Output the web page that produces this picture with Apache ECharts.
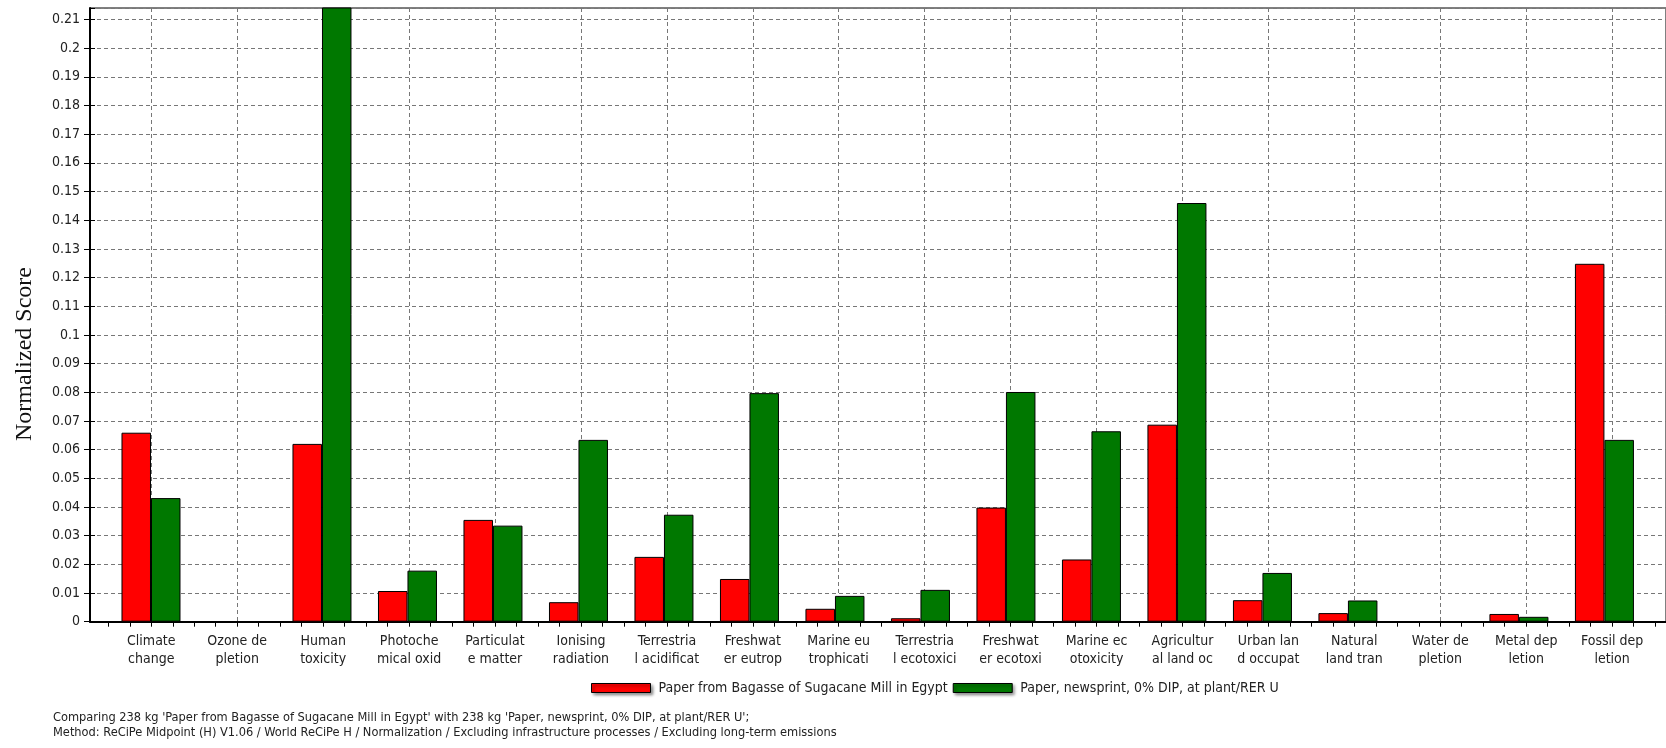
<!DOCTYPE html>
<html><head><meta charset="utf-8">
<script src="https://cdn.jsdelivr.net/npm/echarts@6/dist/echarts.min.js"></script>
<style>html,body{margin:0;padding:0;background:#fff}#c{width:1666px;height:748px}</style>
</head><body><div id="c"></div>
<script>
// ---- data ----
const categories = [
  'Climate\nchange', 'Ozone de\npletion', 'Human\ntoxicity', 'Photoche\nmical oxid',
  'Particulat\ne matter', 'Ionising\nradiation', 'Terrestria\nl acidificat', 'Freshwat\ner eutrop',
  'Marine eu\ntrophicati', 'Terrestria\nl ecotoxici', 'Freshwat\ner ecotoxi', 'Marine ec\notoxicity',
  'Agricultur\nal land oc', 'Urban lan\nd occupat', 'Natural\nland tran', 'Water de\npletion',
  'Metal dep\nletion', 'Fossil dep\nletion'
];
const seriesNames = ['Paper from Bagasse of Sugacane Mill in Egypt', 'Paper, newsprint, 0% DIP, at plant/RER U'];
const bagasse = [0.0659, 0, 0.0620, 0.0107, 0.0355, 0.0068, 0.0226, 0.0149, 0.0045, 0.0012,
                 0.0398, 0.0217, 0.0687, 0.0075, 0.0030, 0, 0.0027, 0.1248];
const newsprint = [0.0431, 0, 0.2200, 0.0178, 0.0335, 0.0634, 0.0373, 0.0797, 0.0090, 0.0111,
                   0.0801, 0.0664, 0.1460, 0.0170, 0.0074, 0, 0.0017, 0.0634];
const yMin = 0, yMax = 0.214, yStep = 0.01;
const yTitle = 'Normalized Score';
const footnoteLines = [
  "Comparing 238 kg 'Paper from Bagasse of Sugacane Mill in Egypt' with 238 kg 'Paper, newsprint, 0% DIP, at plant/RER U';",
  "Method: ReCiPe Midpoint (H) V1.06 / World ReCiPe H / Normalization / Excluding infrastructure processes / Excluding long-term emissions"
];

// ---- layout ----
const H = 748;
const plotLeft = 90, plotTop = 8, axisY = 621.7, plotRightEdge = 1674;
const c0 = 151.3, cw = 85.93;         // first category centre, category spacing (px)
const gridBottom = H - axisY;
const uiFont = '"DejaVu Sans Condensed", "Liberation Sans", sans-serif';
const txtColor = '#222';
const gridLine = {show: true, lineStyle: {color: '#777', width: 1, type: [4, 3]}};

const chart = echarts.init(document.getElementById('c'), null, {renderer: 'canvas'});
const n = categories.length;

const option = {
  animation: false,
  backgroundColor: '#fff',
  grid: [
    {left: plotLeft, top: plotTop, width: plotRightEdge - plotLeft, bottom: gridBottom,
     show: true, borderColor: '#000', borderWidth: 1, backgroundColor: 'transparent'},
    {left: c0 - 0.5 * cw, top: plotTop, width: n * cw, bottom: gridBottom},
    {left: c0, top: plotTop, width: (n - 1) * cw, bottom: gridBottom}
  ],
  xAxis: [
    {type: 'value', gridIndex: 0, min: (plotLeft - c0) / cw, max: (plotRightEdge - c0) / cw,
     axisLine: {show: true, onZero: false, lineStyle: {color: '#000', width: 2}},
     axisTick: {show: false}, axisLabel: {show: false}, splitLine: {show: false}},
    {type: 'value', gridIndex: 1, min: -0.5, max: n - 0.5, interval: 0.25,
     axisLine: {show: false, onZero: false}, axisTick: {show: true, length: 5, lineStyle: {color: '#000'}},
     axisLabel: {show: false}, splitLine: {show: false}},
    {type: 'value', gridIndex: 2, min: 0, max: n - 1, interval: 1,
     axisLine: {show: false, onZero: false}, axisTick: {show: false},
     axisLabel: {show: true, margin: 11, color: txtColor, fontFamily: uiFont, fontSize: 14, lineHeight: 17.5,
       formatter: v => categories[Math.round(v)] || ''},
     splitLine: gridLine}
  ],
  yAxis: [
    {type: 'value', gridIndex: 0, min: yMin, max: yMax, interval: yStep,
     axisLine: {show: true, onZero: false, lineStyle: {color: '#000', width: 2}},
     axisTick: {show: true, length: 6, lineStyle: {color: '#000'}},
     axisLabel: {show: true, margin: 10, color: txtColor, fontFamily: uiFont, fontSize: 14, showMaxLabel: false},
     splitLine: gridLine},
    {type: 'value', gridIndex: 0, min: yMin, max: yMax, interval: yStep, position: 'left',
     axisLine: {show: false, onZero: false}, axisTick: {show: true, inside: true, length: 5, lineStyle: {color: '#000'}},
     axisLabel: {show: false}, splitLine: {show: false}},
    {type: 'value', gridIndex: 1, show: false, axisLine: {onZero: false}},
    {type: 'value', gridIndex: 2, show: false, axisLine: {onZero: false}}
  ],
  legend: {
    left: 591, top: 681, padding: 0, itemGap: 5,
    itemWidth: 59, itemHeight: 9, icon: 'rect',
    textStyle: {color: txtColor, fontFamily: uiFont, fontSize: 14, padding: [0, 0, 0, 3]},
    itemStyle: {borderColor: '#000', borderWidth: 1, shadowBlur: 3, shadowColor: 'rgba(0,0,0,0.45)', shadowOffsetX: 2, shadowOffsetY: 2},
    data: seriesNames
  },
  graphic: [
    {type: 'text', x: 25, y: 354, rotation: Math.PI / 2, silent: true,
     style: {text: yTitle, fill: '#111', font: '24px "Liberation Serif", "Times New Roman", serif',
       textAlign: 'center', textVerticalAlign: 'middle', align: 'center', verticalAlign: 'middle'}},
    {type: 'text', left: 53, top: 710, silent: true,
     style: {text: footnoteLines.join('\n'), fill: txtColor, font: '12.7px ' + uiFont, lineHeight: 15}}
  ],
  series: [
    {name: seriesNames[0], type: 'bar', xAxisIndex: 0, yAxisIndex: 0, barWidth: 29.5, barGap: '0%',
     itemStyle: {color: '#ff0000', borderColor: '#000', borderWidth: 1},
     data: bagasse.map((v, i) => [i, v])},
    {name: seriesNames[1], type: 'bar', xAxisIndex: 0, yAxisIndex: 0, barWidth: 29.5, barGap: '0%',
     itemStyle: {color: '#007800', borderColor: '#000', borderWidth: 1},
     data: newsprint.map((v, i) => [i, v])}
  ]
};
chart.setOption(option);
</script>
</body></html>
